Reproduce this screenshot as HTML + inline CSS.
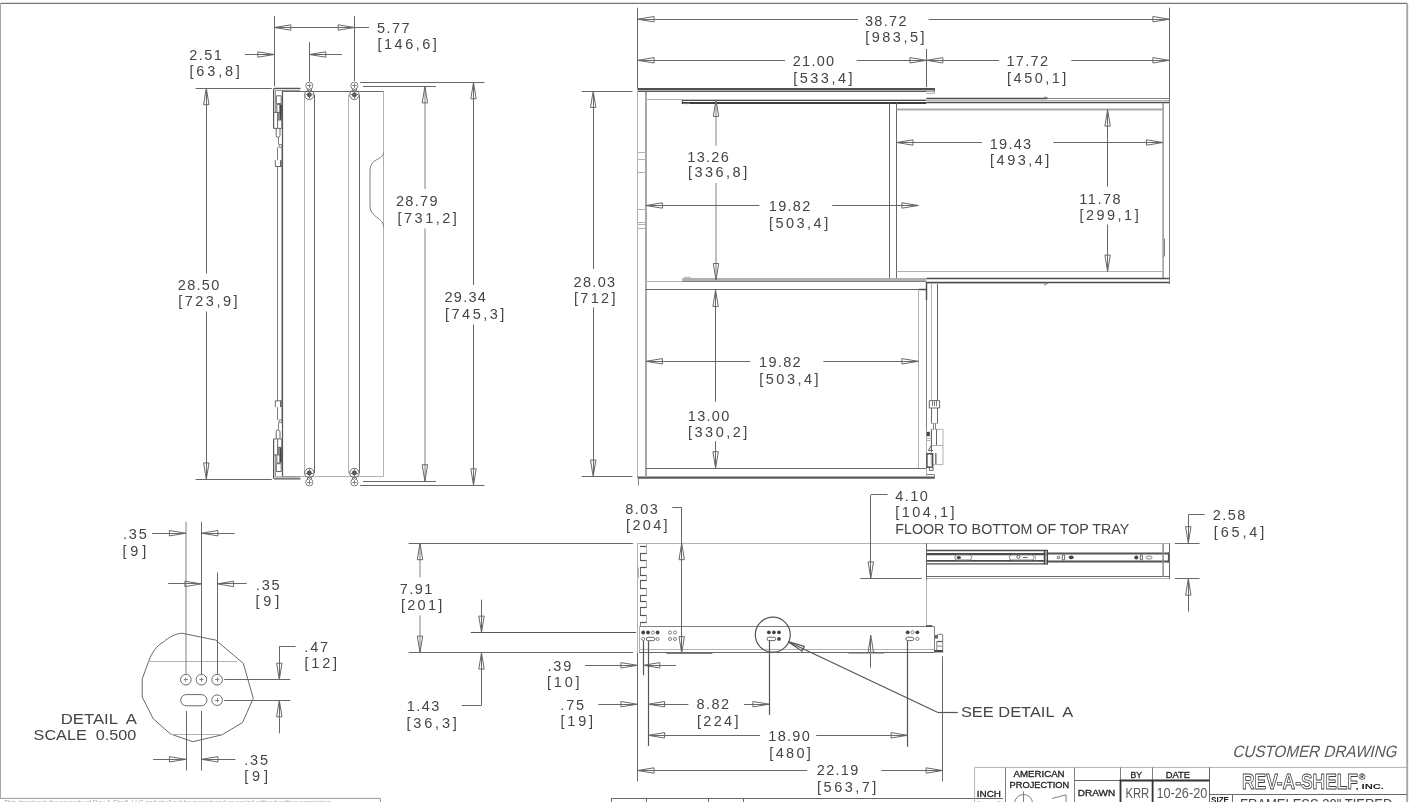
<!DOCTYPE html>
<html lang="en"><head><meta charset="utf-8"><title>Customer Drawing - Frameless 30" Tiered</title>
<style>
html,body{margin:0;padding:0;background:#fff;}
body{width:1410px;height:802px;overflow:hidden;font-family:"Liberation Sans",sans-serif;}
svg{display:block;position:absolute;left:0;top:0;filter:grayscale(1);}
path,circle{fill:none;vector-effect:non-scaling-stroke;}
.d{stroke:#686868;stroke-width:1;}
.d2{stroke:#555;stroke-width:1.2;}
.m{stroke:#808080;stroke-width:1;}
.l{stroke:#b2b2b2;stroke-width:1;}
.ll{stroke:#d4d4d4;stroke-width:1;}
.k{stroke:#4c4c4c;stroke-width:1.45;}
.kk{stroke:#4a4a4a;stroke-width:1.7;}
.g{stroke:#a8a8a8;stroke-width:1.8;}
.f{fill:#444;stroke:none;}
.fg{fill:#b0b0b0;stroke:none;}
text{font-family:"Liberation Sans",sans-serif;fill:#222;}
text.tx{font-size:14.5px;fill:#454545;white-space:pre;}
text.tsx{fill:#5a5a5a;white-space:pre;}
</style></head><body>
<svg width="1410" height="802" viewBox="0 0 1410 802" role="img" aria-label="Customer drawing">
<path d="M0.5,3.4H1407.2" style="stroke:#757575;stroke-width:1.4"/>
<path d="M0.5,3.4V798.4" style="stroke:#a8a8a8;stroke-width:1.1"/>
<path d="M1407.2,3.4V802" style="stroke:#a6a6a6;stroke-width:1.9"/>
<path d="M0.5,798.4H380.5V802" style="stroke:#999;stroke-width:1"/>
<text x="4" y="805.4" style="font-size:6.5px;fill:#aaa">This drawing is the property of Rev-A-Shelf, LLC and shall not be reproduced or copied without written permission.</text>
<path class="d" d="M282.4,91.5L384,91.5"/>
<path class="d2" d="M282.5,90.6L282.5,476.1"/>
<path class="l" d="M383.5,91.2L383.5,476.1"/>
<path class="l" d="M282.4,476.5L383.7,476.5"/>
<path class="l" d="M304.5,95L304.5,473"/>
<path class="d" d="M314.5,95L314.5,473"/>
<path class="l" d="M348.5,95L348.5,473"/>
<path class="d" d="M359.5,95L359.5,473"/>
<path class="m" d="M383.7,152.5C383.7,160 370,158 370,170V206C370,218 383.7,217 383.7,227.5"/>
<path class="m" d="M277.5,166.6L277.5,400.8"/>
<path class="l" d="M281.5,145L281.5,422"/>
<path class="d2" d="M273.6,128.4V89.5Q273.6,88.4 274.7,88.4H300.5"/>
<path class="m" d="M275.3,112.4V90.3H300"/>
<path class="d" d="M276.3,95.8H281.2V103.6H276.3Z"/>
<path class="d" d="M276.8,104.4H281.8V112.4H276.8Z"/>
<path class="f" d="M279.4,105H281.8V120H279.4Z"/>
<path class="d" d="M273.6,112.4H277.6V128.4H273.6M277.6,120H281.8V128.4H277.6"/>
<path class="d" d="M276.2,128.4V135.4Q276.4,137.6 278,137.4Q279.9,137.2 280,135.4V128.4"/>
<path class="m" d="M278.5,113L278.5,120"/>
<path class="m" d="M278.5,137.4L278.5,144.6"/>
<path class="m" d="M279.1,144.6H281.7V147.4H279.1Z"/>
<path class="m" d="M277.5,147.4L277.5,160.2"/>
<path class="d" d="M275.3,160.2V166.5H281.8V160.2"/>
<path class="d" d="M280.5,160.2L280.5,166.5"/>
<g transform="translate(0,567.3) scale(1,-1)">
<path class="d2" d="M273.6,128.4V89.5Q273.6,88.4 274.7,88.4H300.5"/>
<path class="m" d="M275.3,112.4V90.3H300"/>
<path class="d" d="M276.3,95.8H281.2V103.6H276.3Z"/>
<path class="d" d="M276.8,104.4H281.8V112.4H276.8Z"/>
<path class="f" d="M279.4,105H281.8V120H279.4Z"/>
<path class="d" d="M273.6,112.4H277.6V128.4H273.6M277.6,120H281.8V128.4H277.6"/>
<path class="d" d="M276.2,128.4V135.4Q276.4,137.6 278,137.4Q279.9,137.2 280,135.4V128.4"/>
<path class="m" d="M278.5,113L278.5,120"/>
<path class="m" d="M278.5,137.4L278.5,144.6"/>
<path class="m" d="M279.1,144.6H281.7V147.4H279.1Z"/>
<path class="m" d="M277.5,147.4L277.5,160.2"/>
<path class="d" d="M275.3,160.2V166.5H281.8V160.2"/>
<path class="d" d="M280.5,160.2L280.5,166.5"/>
</g>
<circle class="m" cx="309.3" cy="85.7" r="3.6"/>
<circle class="d" cx="309.3" cy="94.8" r="4.7"/>
<path class="m" d="M307.5,88.7L307.5,90.6"/>
<path class="m" d="M311.5,88.7L311.5,90.6"/>
<circle class="f" cx="309.3" cy="94.8" r="2.4"/>
<path class="m" d="M307.1,85.5L311.5,85.5"/>
<path class="m" d="M309.5,83.5L309.5,87.9"/>
<path class="d" d="M305.7,94.5L312.9,94.5"/>
<path class="d" d="M309.5,91.2L309.5,98.4"/>
<circle class="m" cx="309.3" cy="482.4" r="3.6"/>
<circle class="d" cx="309.3" cy="473" r="4.7"/>
<path class="m" d="M307.5,479.4L307.5,477.2"/>
<path class="m" d="M311.5,479.4L311.5,477.2"/>
<circle class="f" cx="309.3" cy="473" r="2.4"/>
<path class="m" d="M307.1,482.5L311.5,482.5"/>
<path class="m" d="M309.5,480.2L309.5,484.6"/>
<path class="d" d="M305.7,473.5L312.9,473.5"/>
<path class="d" d="M309.5,469.4L309.5,476.6"/>
<circle class="m" cx="354.4" cy="85.7" r="3.6"/>
<circle class="d" cx="354.4" cy="94.8" r="4.7"/>
<path class="m" d="M352.5,88.7L352.5,90.6"/>
<path class="m" d="M356.5,88.7L356.5,90.6"/>
<circle class="f" cx="354.4" cy="94.8" r="2.4"/>
<path class="m" d="M352.2,85.5L356.6,85.5"/>
<path class="m" d="M354.5,83.5L354.5,87.9"/>
<path class="d" d="M350.8,94.5L358,94.5"/>
<path class="d" d="M354.5,91.2L354.5,98.4"/>
<circle class="m" cx="354.4" cy="482.4" r="3.6"/>
<circle class="d" cx="354.4" cy="473" r="4.7"/>
<path class="m" d="M352.5,479.4L352.5,477.2"/>
<path class="m" d="M356.5,479.4L356.5,477.2"/>
<circle class="f" cx="354.4" cy="473" r="2.4"/>
<path class="m" d="M352.2,482.5L356.6,482.5"/>
<path class="m" d="M354.5,480.2L354.5,484.6"/>
<path class="d" d="M350.8,473.5L358,473.5"/>
<path class="d" d="M354.5,469.4L354.5,476.6"/>
<path class="d" d="M274.5,15.9L274.5,86.5"/>
<path class="d" d="M354.5,15.9L354.5,81"/>
<path class="d" d="M274.3,27.5L369,27.5"/>
<path class="d" d="M274.3,27.5L290.8,24.8L290.8,30.2Z"/>
<path class="d" d="M354.6,27.5L338.1,24.8L338.1,30.2Z"/>
<text class="tx" x="377.1" y="32.6" textLength="32.6" lengthAdjust="spacing">5.77</text>
<text class="tx" x="377.5" y="49.3" textLength="59.3" lengthAdjust="spacing">[146,6]</text>
<path class="d" d="M244.9,54.5L274.3,54.5"/>
<path class="d" d="M274.3,54.5L257.8,51.8L257.8,57.2Z"/>
<path class="d" d="M309.5,42.2L309.5,81.5"/>
<path class="d" d="M309.3,54.5L341.8,54.5"/>
<path class="d" d="M309.3,54.5L325.8,51.8L325.8,57.2Z"/>
<text class="tx" x="189.2" y="60.1" textLength="32.6" lengthAdjust="spacing">2.51</text>
<text class="tx" x="189.5" y="76.2" textLength="50.4" lengthAdjust="spacing">[63,8]</text>
<path class="d" d="M195.6,88.5L271.8,88.5"/>
<path class="d" d="M195.6,479.5L271.8,479.5"/>
<path class="d" d="M206.5,88.2L206.5,273.5"/>
<path class="d" d="M206.5,311.5L206.5,479.4"/>
<path class="d" d="M206.3,88.2L203.6,104.7L209,104.7Z"/>
<path class="d" d="M206.3,479.4L203.6,462.9L209,462.9Z"/>
<text class="tx" x="177.8" y="289.7" textLength="41.5" lengthAdjust="spacing">28.50</text>
<text class="tx" x="178.2" y="306.3" textLength="59.3" lengthAdjust="spacing">[723,9]</text>
<path class="d" d="M363,86.5L436,86.5"/>
<path class="d" d="M363,481.5L436,481.5"/>
<path class="m" d="M425,86.4L425,189"/>
<path class="m" d="M425,228.5L425,481.2"/>
<path class="d" d="M424.9,86.4L422.2,102.9L427.6,102.9Z"/>
<path class="d" d="M424.9,481.2L422.2,464.7L427.6,464.7Z"/>
<text class="tx" x="396" y="206.4" textLength="41.5" lengthAdjust="spacing">28.79</text>
<text class="tx" x="397.5" y="223" textLength="59.3" lengthAdjust="spacing">[731,2]</text>
<path class="d" d="M359.9,82.5L484.5,82.5"/>
<path class="d" d="M359.9,485.5L484.5,485.5"/>
<path class="d" d="M473.5,82.3L473.5,285"/>
<path class="d" d="M473.5,324.5L473.5,485.3"/>
<path class="d" d="M473.5,82.3L470.8,98.8L476.2,98.8Z"/>
<path class="d" d="M473.5,485.3L470.8,468.8L476.2,468.8Z"/>
<text class="tx" x="444.4" y="302.4" textLength="41.5" lengthAdjust="spacing">29.34</text>
<text class="tx" x="445" y="319.1" textLength="59.3" lengthAdjust="spacing">[745,3]</text>
<path class="d" d="M637.5,7.7L637.5,88.6"/>
<path class="d" d="M926.5,49L926.5,87"/>
<path class="d" d="M1169.5,7.7L1169.5,98"/>
<path class="d" d="M637.6,19.5L857.9,19.5"/>
<path class="d" d="M928.6,19.5L1169.4,19.5"/>
<path class="d" d="M637.6,19.2L654.1,16.5L654.1,21.9Z"/>
<path class="d" d="M1169.4,19.2L1152.9,16.5L1152.9,21.9Z"/>
<text class="tx" x="865" y="25.7" textLength="41.5" lengthAdjust="spacing">38.72</text>
<text class="tx" x="865.2" y="41.8" textLength="59.3" lengthAdjust="spacing">[983,5]</text>
<path class="d" d="M637.6,60.5L785,60.5"/>
<path class="d" d="M856.6,60.5L926.4,60.5"/>
<path class="d" d="M637.6,60.3L654.1,57.6L654.1,63Z"/>
<path class="d" d="M926.4,60.3L909.9,57.6L909.9,63Z"/>
<text class="tx" x="792.7" y="66" textLength="41.5" lengthAdjust="spacing">21.00</text>
<text class="tx" x="793.2" y="82.6" textLength="59.3" lengthAdjust="spacing">[533,4]</text>
<path class="d" d="M926.4,60.5L998.9,60.5"/>
<path class="d" d="M1071.3,60.5L1169.4,60.5"/>
<path class="d" d="M926.4,60.3L942.9,57.6L942.9,63Z"/>
<path class="d" d="M1169.4,60.3L1152.9,57.6L1152.9,63Z"/>
<text class="tx" x="1006.5" y="66" textLength="41.5" lengthAdjust="spacing">17.72</text>
<text class="tx" x="1007.1" y="82.5" textLength="59.3" lengthAdjust="spacing">[450,1]</text>
<path d="M637.5,90.5H934.5" style="stroke:#b4b4b4;stroke-width:1"/>
<path d="M637.5,89H935" style="stroke:#505050;stroke-width:2"/>
<path d="M637.5,91.5H935M934.5,88V92" style="stroke:#585858;stroke-width:1"/>
<path class="l" d="M926.4,91.6H934.5V93.4H926.4"/>
<path class="l" d="M637.5,91L637.5,477"/>
<path d="M646,92V476" style="stroke:#a8a8a8;stroke-width:2"/>
<path class="l" d="M637.6,152.5L645.9,152.5"/>
<path class="l" d="M637.6,159.5L645.9,159.5"/>
<path class="l" d="M637.6,172.5L645.9,172.5"/>
<path class="l" d="M637.6,209.5L645.9,209.5"/>
<path class="l" d="M637.6,222.5L645.9,222.5"/>
<path class="l" d="M637.6,224.5L645.9,224.5"/>
<path class="l" d="M637.6,228.5L645.9,228.5"/>
<path class="l" d="M645.9,99.5L682,99.5"/>
<path d="M681.9,99.5H926.4" style="stroke:#c0c0c0;stroke-width:1"/>
<path d="M681.9,100.5H926.4M682.4,100V104" style="stroke:#4c4c4c;stroke-width:1"/>
<path d="M681.9,103H926.4" style="stroke:#3c3c3c;stroke-width:2"/>
<path class="m" d="M683,103.6H690"/>
<path class="k" d="M926.4,98.5L1047.5,98.5"/>
<path class="m" d="M1047.5,98.5L1169.4,98.5"/>
<path class="l" d="M926.4,100.5L1169.4,100.5"/>
<path class="k" d="M926.4,102.5L1169.4,102.5"/>
<path class="m" d="M1044,96.8L1048,98.1"/>
<path class="d" d="M889.5,103L889.5,279"/>
<path class="d" d="M896.5,103L896.5,279"/>
<path d="M1163.1,102.5V279" style="stroke:#909090;stroke-width:1.4"/>
<path class="m" d="M1169.5,98L1169.5,284"/>
<path class="m" d="M1164.5,238.6L1164.5,256.5"/>
<path class="g" d="M896.5,109.5L1163,109.5"/>
<path class="l" d="M896.5,271.5L1163,271.5"/>
<path class="k" d="M926.4,278.5L1169.4,278.5"/>
<path class="k" d="M926.4,282.5L1169.4,282.5"/>
<path class="l" d="M926.4,283.5L1047.5,283.5"/>
<path class="m" d="M1044,285L1048,283.2"/>
<path class="fg" d="M682.2,278.1H926.4V281.6H682.2Z"/>
<path class="m" d="M682.2,281.5L926.4,281.5"/>
<path class="l" d="M684,277.2H691"/>
<path class="l" d="M645.9,281.5L682,281.5"/>
<path class="d" d="M645.9,289.5L918.4,289.5"/>
<path class="k" d="M918.4,289.5L926.4,289.5"/>
<path class="l" d="M918.5,289.8L918.5,468.2"/>
<path class="k" d="M926.5,282L926.5,300"/>
<path class="m" d="M926.5,300L926.5,430"/>
<path class="l" d="M926.5,430L926.5,468"/>
<path class="l" d="M931.5,284L931.5,400"/>
<path class="d" d="M937.5,284L937.5,400"/>
<path class="d" d="M645.9,468.5L926.4,468.5"/>
<path d="M637.5,477.7H934.8" style="stroke:#585858;stroke-width:2.3"/>
<path class="m" d="M926.5,474.5L934.6,474.5"/>
<path class="m" d="M934.5,474.8L934.5,478.4"/>
<path class="l" d="M926.5,468.2L926.5,476"/>
<path class="m" d="M638.5,478.4L638.5,485.5"/>
<path class="d" d="M929.3,400.6H939.6V408H929.3Z"/>
<path class="m" d="M932.5,401L932.5,406"/>
<path class="m" d="M934.5,401L934.5,406"/>
<path class="m" d="M936.5,401L936.5,406"/>
<path class="d" d="M931.5,408L931.5,423.4"/>
<path class="d" d="M937.5,408L937.5,423.4"/>
<path class="l" d="M931.4,423.5L937.8,423.5"/>
<path class="m" d="M933.5,423.4L933.5,429.3"/>
<path class="m" d="M935.5,423.4L935.5,429.3"/>
<path class="l" d="M931.2,429.3H943V464.6H931.2Z"/>
<path class="d" d="M936.5,429.3L936.5,445.5"/>
<path class="l" d="M931.2,445.5L943,445.5"/>
<path class="d" d="M931.5,429.3L931.5,452"/>
<path class="f" d="M926.6,431.8H929.8V436.2H926.6Z"/>
<path class="l" d="M927,438.5L930.4,438.5"/>
<path class="l" d="M927,440.5L930.4,440.5"/>
<path class="d" d="M931.2,445.5L928.4,450.5H933"/>
<path class="k" d="M926.9,453.8H932.6V467.3H926.9Z"/>
<path class="m" d="M935.5,453L935.5,464"/>
<path class="l" d="M936.5,453L936.5,464"/>
<path class="d" d="M929.4,467.3H933V470.4H929.4Z"/>
<path class="d" d="M581.7,91.5L632.4,91.5"/>
<path class="d" d="M581.7,476.5L632.4,476.5"/>
<path class="d" d="M593.5,91L593.5,269"/>
<path class="d" d="M593.5,307.5L593.5,476.5"/>
<path class="d" d="M593.2,91L590.5,107.5L595.9,107.5Z"/>
<path class="d" d="M593.2,476.5L590.5,460L595.9,460Z"/>
<text class="tx" x="573.6" y="286.7" textLength="41.5" lengthAdjust="spacing">28.03</text>
<text class="tx" x="574" y="303.3" textLength="41.5" lengthAdjust="spacing">[712]</text>
<path class="m" d="M716,99.9L716,145.7"/>
<path class="m" d="M716,183L716,280"/>
<path class="d" d="M716,99.9L713.3,116.4L718.7,116.4Z"/>
<path class="d" d="M716,280L713.3,263.5L718.7,263.5Z"/>
<text class="tx" x="687.3" y="161.5" textLength="41.5" lengthAdjust="spacing">13.26</text>
<text class="tx" x="687.9" y="177.1" textLength="59.3" lengthAdjust="spacing">[336,8]</text>
<path class="d" d="M645.9,205.5L759.4,205.5"/>
<path class="d" d="M832.3,205.5L918.4,205.5"/>
<path class="d" d="M645.9,205.5L662.4,202.8L662.4,208.2Z"/>
<path class="d" d="M918.4,205.5L901.9,202.8L901.9,208.2Z"/>
<text class="tx" x="768.8" y="211.1" textLength="41.5" lengthAdjust="spacing">19.82</text>
<text class="tx" x="768.9" y="227.6" textLength="59.3" lengthAdjust="spacing">[503,4]</text>
<path class="d" d="M715.5,290L715.5,401.6"/>
<path class="d" d="M715.5,441.2L715.5,468.2"/>
<path class="d" d="M715.6,290L712.9,306.5L718.3,306.5Z"/>
<path class="d" d="M715.6,468.2L712.9,451.7L718.3,451.7Z"/>
<text class="tx" x="687.8" y="420.6" textLength="41.5" lengthAdjust="spacing">13.00</text>
<text class="tx" x="688" y="436.8" textLength="59.3" lengthAdjust="spacing">[330,2]</text>
<path class="d" d="M645.9,361.5L750.5,361.5"/>
<path class="d" d="M823.4,361.5L918.4,361.5"/>
<path class="d" d="M645.9,361.3L662.4,358.6L662.4,364Z"/>
<path class="d" d="M918.4,361.3L901.9,358.6L901.9,364Z"/>
<text class="tx" x="759.1" y="367.1" textLength="41.5" lengthAdjust="spacing">19.82</text>
<text class="tx" x="759.3" y="383.7" textLength="59.3" lengthAdjust="spacing">[503,4]</text>
<path class="d" d="M896.5,142.5L981.8,142.5"/>
<path class="d" d="M1053.4,142.5L1163,142.5"/>
<path class="d" d="M896.5,142.5L913,139.8L913,145.2Z"/>
<path class="d" d="M1163,142.5L1146.5,139.8L1146.5,145.2Z"/>
<text class="tx" x="989.7" y="148.6" textLength="41.5" lengthAdjust="spacing">19.43</text>
<text class="tx" x="990.1" y="164.8" textLength="59.3" lengthAdjust="spacing">[493,4]</text>
<path class="d" d="M1107.5,109.6L1107.5,186.7"/>
<path class="d" d="M1107.5,224.5L1107.5,271.6"/>
<path class="d" d="M1107.6,109.6L1104.9,126.1L1110.3,126.1Z"/>
<path class="d" d="M1107.6,271.6L1104.9,255.1L1110.3,255.1Z"/>
<text class="tx" x="1079.2" y="203.6" textLength="41.5" lengthAdjust="spacing">11.78</text>
<text class="tx" x="1079.4" y="220" textLength="59.3" lengthAdjust="spacing">[299,1]</text>
<path class="l" d="M637.5,543.5L1169.4,543.5"/>
<path class="l" d="M637.5,543.2L637.5,653"/>
<path class="d" d="M637.5,653L637.5,781.3"/>
<path class="l" d="M926.5,543.2L926.5,625.8"/>
<path class="d2" d="M640,546.5L646.6,546.5"/>
<path class="l" d="M646.5,546.9L646.5,553.4"/>
<path class="d2" d="M640,553.5L646.6,553.5"/>
<path class="d" d="M640.5,553.4L640.5,560.8"/>
<path class="d2" d="M640,560.5L646.6,560.5"/>
<path class="l" d="M646.5,560.8L646.5,567.4"/>
<path class="d2" d="M640,567.5L646.6,567.5"/>
<path class="d" d="M640.5,567.4L640.5,575.2"/>
<path class="d2" d="M640,575.5L646.6,575.5"/>
<path class="l" d="M646.5,575.2L646.5,580.9"/>
<path class="d2" d="M640,580.5L646.6,580.5"/>
<path class="d" d="M640.5,580.9L640.5,588.6"/>
<path class="d2" d="M640,588.5L646.6,588.5"/>
<path class="l" d="M646.5,588.6L646.5,595.2"/>
<path class="d2" d="M640,595.5L646.6,595.5"/>
<path class="d" d="M640.5,595.2L640.5,601.2"/>
<path class="d2" d="M640,601.5L646.6,601.5"/>
<path class="l" d="M646.5,601.2L646.5,607.8"/>
<path class="d2" d="M640,607.5L646.6,607.5"/>
<path class="d" d="M640.5,607.8L640.5,615.8"/>
<path class="d2" d="M640,615.5L646.6,615.5"/>
<path class="l" d="M646.5,615.8L646.5,622.5"/>
<path class="d2" d="M640,622.5L646.6,622.5"/>
<path class="l" d="M646.5,543.5L646.5,546.9"/>
<path class="m" d="M640.5,622.5L640.5,626"/>
<path class="l" d="M638.5,567.5L638.5,578"/>
<path class="m" d="M934.3,626.5H639.5"/>
<path class="l" d="M639.5,626.5V652.4"/>
<path class="l" d="M639.2,649.5L934.3,649.5"/>
<path class="d" d="M639.2,652.5L934.3,652.5"/>
<path class="f" d="M926.2,625.2H932.2V626.8H926.2Z"/>
<circle cx="643.2" cy="632.5" r="1.9" class="f"/>
<circle cx="648" cy="632.5" r="1.9" class="f"/>
<circle class="m" cx="652.9" cy="632.5" r="1.55"/>
<circle cx="657.6" cy="632.5" r="1.9" class="f"/>
<circle class="m" cx="670" cy="632.5" r="1.55"/>
<circle class="m" cx="675" cy="632.5" r="1.55"/>
<circle class="m" cx="643.2" cy="639" r="1.55"/>
<path class="d" d="M648.1,637.3H653.0999999999999A1.7,1.7 0 0 1 653.0999999999999,640.7H648.1A1.7,1.7 0 0 1 648.1,637.3Z"/>
<circle class="m" cx="657.6" cy="639" r="1.55"/>
<circle class="m" cx="670" cy="639" r="1.55"/>
<circle class="m" cx="675" cy="639" r="1.55"/>
<circle class="d2" cx="772.8" cy="634.7" r="17.5"/>
<circle cx="768.9" cy="632.3" r="1.9" class="f"/>
<circle cx="773.9" cy="632.3" r="1.9" class="f"/>
<circle cx="779" cy="632.3" r="1.9" class="f"/>
<path class="d" d="M768.7,637.1999999999999H774.0999999999999A1.7,1.7 0 0 1 774.0999999999999,640.6H768.7A1.7,1.7 0 0 1 768.7,637.1999999999999Z"/>
<circle cx="779" cy="638.9" r="1.9" class="f"/>
<circle cx="907.7" cy="632.3" r="1.9" class="f"/>
<circle class="m" cx="912.5" cy="632.3" r="1.55"/>
<circle cx="917.4" cy="632.3" r="1.9" class="f"/>
<path class="d" d="M907.5,637.1999999999999H912.0999999999999A1.7,1.7 0 0 1 912.0999999999999,640.6H907.5A1.7,1.7 0 0 1 907.5,637.1999999999999Z"/>
<circle class="m" cx="917.4" cy="638.9" r="1.6"/>
<path class="m" d="M937.4,634.3H942.7V652.4"/>
<path class="m" d="M934.5,626.5L934.5,652.4"/>
<path class="f" d="M934.8,635H938V638.6H934.8Z" style="fill:#666"/>
<path class="d2" d="M936.8,641.5L942.7,641.5"/>
<path class="m" d="M936.8,641.2V650"/>
<path d="M936.5,646.2H942.7" style="stroke:#aaa;stroke-width:1.4"/>
<path d="M934.4,651.2H942.9" style="stroke:#484848;stroke-width:2.4"/>
<path class="d" d="M926.5,543.2L926.5,580"/>
<path d="M926.9,550.5H1047.8" style="stroke:#4c4c4c;stroke-width:1.4"/>
<path d="M926.9,563.9H1047.8" style="stroke:#4c4c4c;stroke-width:1.4"/>
<path d="M926.9,554.1H1047.8" style="stroke:#4a4a4a;stroke-width:2.4"/>
<path d="M926.9,560.8H1047.8" style="stroke:#4a4a4a;stroke-width:1.8"/>
<path d="M1047.8,553.4H1168.8" style="stroke:#555;stroke-width:2"/>
<path d="M1047.8,561.5H1168.8" style="stroke:#505050;stroke-width:2.2"/>
<path d="M1044.4,550V564.5M1047.4,550V564.5" style="stroke:#444;stroke-width:1.3"/>
<path d="M1045.9,551.5V563" style="stroke:#999;stroke-width:1.6"/>
<path class="d2" d="M1168.5,552.4L1168.5,562.6"/>
<path d="M956.8,555H969.6A2,2.5 0 0 1 969.6,560H956.8A2,2.5 0 0 1 956.8,555Z" style="fill:#fff;stroke:#777;stroke-width:.9"/>
<ellipse cx="958.8" cy="557.5" rx="2.2" ry="1.6" class="f"/>
<path d="M1011.4,555H1032A2,2.5 0 0 1 1032,560H1011.4A2,2.5 0 0 1 1011.4,555Z" style="fill:#fff;stroke:#777;stroke-width:.9"/>
<circle class="d" cx="1018.4" cy="556.8" r="1.6"/>
<path class="d" d="M1023,557.5L1027.5,557.5"/>
<path class="l" d="M1035.5,555L1035.5,560.5"/>
<path class="m" d="M1057.4,556.3H1059.7V558.5H1057.4Z"/>
<path class="d" d="M1062.3,554.9H1064.7V559.9H1062.3Z"/>
<ellipse cx="1071.2" cy="557.4" rx="2.5" ry="1.8" class="f"/>
<circle cx="1136.3" cy="557.4" r="2" class="f"/>
<path class="d" d="M1140.3,554.9H1142.4V559.9H1140.3Z"/>
<path class="m" d="M1147.4,556.2H1150.6A1.3,1.3 0 0 1 1150.6,558.9H1147.4A1.3,1.3 0 0 1 1147.4,556.2Z"/>
<path class="d" d="M926.9,576.5L1169.4,576.5"/>
<path class="l" d="M926.9,578.5L1169.4,578.5"/>
<path d="M1163.1,543.5V577" style="stroke:#8c8c8c;stroke-width:1.5"/>
<path class="d" d="M1169.5,543.2L1169.5,579"/>
<path class="d" d="M408.6,543.5L633,543.5"/>
<path class="d" d="M408.6,652.5L633,652.5"/>
<path class="m" d="M420,543.2L420,577.2"/>
<path class="m" d="M420,615.5L420,652.6"/>
<path class="d" d="M420,543.2L417.3,559.7L422.7,559.7Z"/>
<path class="d" d="M420,652.6L417.3,636.1L422.7,636.1Z"/>
<text class="tx" x="399.8" y="593.7" textLength="32.6" lengthAdjust="spacing">7.91</text>
<text class="tx" x="400.9" y="609.8" textLength="41.5" lengthAdjust="spacing">[201]</text>
<path class="d2" d="M470.8,632.5L636,632.5"/>
<path class="d" d="M481.5,599.7L481.5,632.6"/>
<path class="d" d="M481.5,632.6L478.8,616.1L484.2,616.1Z"/>
<path class="d" d="M481.5,652.6L481.5,705.2"/>
<path class="d" d="M481.5,652.6L478.8,669.1L484.2,669.1Z"/>
<path class="d" d="M461.7,705.5L481.5,705.5"/>
<text class="tx" x="406.7" y="711.1" textLength="32.6" lengthAdjust="spacing">1.43</text>
<text class="tx" x="406.4" y="727.7" textLength="50.4" lengthAdjust="spacing">[36,3]</text>
<path class="d" d="M672.3,507.5L681.7,507.5"/>
<path class="d" d="M681.5,507.3L681.5,653.1"/>
<path class="d" d="M681.7,543.2L679,559.7L684.4,559.7Z"/>
<path class="d" d="M681.7,653.1L679,636.6L684.4,636.6Z"/>
<path class="m" d="M666.4,653.5L712.4,653.5"/>
<text class="tx" x="625.2" y="513.7" textLength="32.6" lengthAdjust="spacing">8.03</text>
<text class="tx" x="626.1" y="530" textLength="41.5" lengthAdjust="spacing">[204]</text>
<path class="d" d="M870.8,494.5L887.6,494.5"/>
<path class="d" d="M870.5,494.9L870.5,578.4"/>
<path class="d" d="M870.8,578.4L868.1,561.9L873.5,561.9Z"/>
<path class="d" d="M860.3,578.5L921.7,578.5"/>
<path class="d" d="M870.8,635.3L868.1,652.3L873.5,652.3Z"/>
<path class="d" d="M870.5,635.3L870.5,667.7"/>
<path class="l" d="M848.4,653.5L884.3,653.5"/>
<text class="tx" x="895.3" y="500.9" textLength="32.6" lengthAdjust="spacing">4.10</text>
<text class="tx" x="895.2" y="517.4" textLength="59.3" lengthAdjust="spacing">[104,1]</text>
<text class="tx" x="895.3" y="533.8" textLength="234" lengthAdjust="spacingAndGlyphs">FLOOR TO BOTTOM OF TOP TRAY</text>
<path class="d" d="M1174.8,543.5L1199.6,543.5"/>
<path class="d" d="M1174.8,578.5L1199.6,578.5"/>
<path class="d" d="M1188.3,514.5L1204.7,514.5"/>
<path class="d" d="M1188.5,514.5L1188.5,543.2"/>
<path class="d" d="M1188.3,543.2L1185.6,526.7L1191,526.7Z"/>
<path class="d" d="M1188.5,578.7L1188.5,611.7"/>
<path class="d" d="M1188.3,578.7L1185.6,595.2L1191,595.2Z"/>
<text class="tx" x="1212.7" y="520.4" textLength="32.6" lengthAdjust="spacing">2.58</text>
<text class="tx" x="1213.8" y="536.7" textLength="50.4" lengthAdjust="spacing">[65,4]</text>
<path class="d" d="M585,665.5L637.4,665.5"/>
<path class="d" d="M637.4,665.3L620.9,662.6L620.9,668Z"/>
<path class="d2" d="M643.5,641L643.5,675.3"/>
<path class="d" d="M643.3,665.5L676,665.5"/>
<path class="d" d="M643.3,665.3L659.8,662.6L659.8,668Z"/>
<text class="tx" x="547.5" y="671.1" textLength="23.8" lengthAdjust="spacing">.39</text>
<text class="tx" x="547" y="687.1" textLength="32.6" lengthAdjust="spacing">[10]</text>
<path class="d" d="M598.3,704.5L637.4,704.5"/>
<path class="d" d="M637.4,704.2L620.9,701.5L620.9,706.9Z"/>
<path class="d2" d="M648.5,641L648.5,746"/>
<path class="d" d="M648.1,704.5L688.4,704.5"/>
<path class="d" d="M648.1,704.2L664.6,701.5L664.6,706.9Z"/>
<text class="tx" x="560.3" y="709.9" textLength="23.8" lengthAdjust="spacing">.75</text>
<text class="tx" x="560.5" y="726.4" textLength="32.6" lengthAdjust="spacing">[19]</text>
<path class="d" d="M743.9,704.5L769.4,704.5"/>
<path class="d" d="M769.4,704.2L752.9,701.5L752.9,706.9Z"/>
<path class="d2" d="M769.5,640.8L769.5,714.9"/>
<text class="tx" x="696.6" y="709.3" textLength="32.6" lengthAdjust="spacing">8.82</text>
<text class="tx" x="697" y="725.9" textLength="41.5" lengthAdjust="spacing">[224]</text>
<path class="d" d="M648.1,735.5L760,735.5"/>
<path class="d" d="M816.2,735.5L907.6,735.5"/>
<path class="d" d="M648.1,735.3L664.6,732.6L664.6,738Z"/>
<path class="d" d="M907.6,735.3L891.1,732.6L891.1,738Z"/>
<path class="d2" d="M907.5,640.8L907.5,746.8"/>
<text class="tx" x="768.3" y="740.7" textLength="41.5" lengthAdjust="spacing">18.90</text>
<text class="tx" x="769.3" y="757.7" textLength="41.5" lengthAdjust="spacing">[480]</text>
<path class="d" d="M637.5,770.5L807.2,770.5"/>
<path class="d" d="M881.3,770.5L942.6,770.5"/>
<path class="d" d="M637.5,770.5L654,767.8L654,773.2Z"/>
<path class="d" d="M942.6,770.5L926.1,767.8L926.1,773.2Z"/>
<path class="d" d="M942.5,656.2L942.5,781.3"/>
<text class="tx" x="816.8" y="775.2" textLength="41.5" lengthAdjust="spacing">22.19</text>
<text class="tx" x="817.1" y="792.3" textLength="59.3" lengthAdjust="spacing">[563,7]</text>
<path class="d2" d="M788.2,641.7L937.4,712.3"/>
<path class="d2" d="M937.4,712.5L957.8,712.5"/>
<path class="d2" d="M788.2,641.7L802.0,651.2L804.3,646.3Z"/>
<text class="tx" x="960.9" y="717.2" textLength="112.2" lengthAdjust="spacingAndGlyphs">SEE DETAIL  A</text>
<path class="d" d="M148.6,661.3C152,652 157,645.5 163.4,642C169,637 175,634 181.8,633.2L215.7,640.1L243.3,663.3L253.3,698.3L242.5,722.5L222.1,734.8L192.8,741.7L170.5,734L153.2,718.7L142.2,697V679.1Z"/>
<path class="l" d="M148.6,661.5L236.9,661.5"/>
<path class="l" d="M170.5,734.5L222.1,734.5"/>
<circle class="d" cx="185.9" cy="679.7" r="5.3"/>
<path class="m" d="M183.9,679.5L187.9,679.5"/>
<path class="m" d="M185.5,677.7L185.5,681.7"/>
<circle class="d" cx="201.4" cy="679.7" r="5.3"/>
<path class="m" d="M199.4,679.5L203.4,679.5"/>
<path class="m" d="M201.5,677.7L201.5,681.7"/>
<circle class="d" cx="217.1" cy="679.7" r="5.3"/>
<path class="m" d="M215.1,679.5L219.1,679.5"/>
<path class="m" d="M217.5,677.7L217.5,681.7"/>
<circle class="d" cx="217.1" cy="700.2" r="5.3"/>
<path class="m" d="M215.1,700.5L219.1,700.5"/>
<path class="m" d="M217.5,698.2L217.5,702.2"/>
<path class="d" d="M186.3,694.6H201.3A5.6,5.6 0 0 1 201.3,705.8H186.3A5.6,5.6 0 0 1 186.3,694.6Z"/>
<path class="m" d="M186,521.7L186,674.4"/>
<path class="d" d="M201.5,521.7L201.5,674.4"/>
<path class="d" d="M217.5,572.4L217.5,674.4"/>
<path class="d" d="M152.1,533.5L185.9,533.5"/>
<path class="d" d="M185.9,533.2L169.4,530.5L169.4,535.9Z"/>
<path class="d" d="M201.4,533.5L234.7,533.5"/>
<path class="d" d="M201.4,533.2L217.9,530.5L217.9,535.9Z"/>
<text class="tx" x="123" y="538.9" textLength="23.8" lengthAdjust="spacing">.35</text>
<text class="tx" x="122.5" y="555.5" textLength="23.8" lengthAdjust="spacing">[9]</text>
<path class="d" d="M168.2,583.5L201.4,583.5"/>
<path class="d" d="M201.4,583.9L184.9,581.2L184.9,586.6Z"/>
<path class="d" d="M217.1,583.5L246.7,583.5"/>
<path class="d" d="M217.1,583.9L233.6,581.2L233.6,586.6Z"/>
<text class="tx" x="255.8" y="589.7" textLength="23.8" lengthAdjust="spacing">.35</text>
<text class="tx" x="255.4" y="606.4" textLength="23.8" lengthAdjust="spacing">[9]</text>
<path class="d" d="M224.2,679.5L290.3,679.5"/>
<path class="d" d="M224.2,700.5L290.3,700.5"/>
<path class="d" d="M279.3,646.5L295.6,646.5"/>
<path class="d" d="M279.5,646.5L279.5,679.7"/>
<path class="d" d="M279.3,679.7L276.6,663.2L282,663.2Z"/>
<path class="d" d="M279.5,700.3L279.5,733.3"/>
<path class="d" d="M279.3,700.3L276.6,716.8L282,716.8Z"/>
<text class="tx" x="304.3" y="651.7" textLength="23.8" lengthAdjust="spacing">.47</text>
<text class="tx" x="304.5" y="668" textLength="32.6" lengthAdjust="spacing">[12]</text>
<path class="d" d="M186.5,711L186.5,770.5"/>
<path class="d" d="M201.5,711L201.5,770.5"/>
<path class="d" d="M153.2,759.5L185.9,759.5"/>
<path class="d" d="M185.9,759.3L169.4,756.6L169.4,762Z"/>
<path class="d" d="M201.4,759.5L235.4,759.5"/>
<path class="d" d="M201.4,759.3L217.9,756.6L217.9,762Z"/>
<text class="tx" x="244.2" y="764.8" textLength="23.8" lengthAdjust="spacing">.35</text>
<text class="tx" x="244.2" y="781.3" textLength="23.8" lengthAdjust="spacing">[9]</text>
<text class="tx" x="60.7" y="723.6" textLength="76.2" lengthAdjust="spacingAndGlyphs">DETAIL  A</text>
<text class="tx" x="33.6" y="739.8" textLength="102.8" lengthAdjust="spacingAndGlyphs">SCALE  0.500</text>
<text class="tsx" transform="translate(0,744.00) skewX(-14)" x="1235.3" y="12.6" font-size="16.5" textLength="164.3" lengthAdjust="spacingAndGlyphs">CUSTOMER DRAWING</text>
<path class="d" d="M611,798.5L1003,798.5"/>
<path class="d" d="M611.5,798.3L611.5,802"/>
<path class="d" d="M646.5,798.3L646.5,802"/>
<path class="d" d="M708.5,798.3L708.5,802"/>
<path class="d" d="M743.5,798.3L743.5,802"/>
<path class="l" d="M974.6,802V767.4H1407"/>
<path class="m" d="M1005.5,767.4L1005.5,802"/>
<path class="m" d="M1074.5,767.4L1074.5,802"/>
<path class="m" d="M1120.5,767.4L1120.5,780.4"/>
<path class="m" d="M1152.5,767.4L1152.5,780.4"/>
<path class="d" d="M1209.5,767.4L1209.5,802"/>
<path class="d" d="M1074.7,780.5L1120.5,780.5"/>
<path d="M1119.6,780.5H1209.6M1120.5,780.5V802M1152.6,780.5V802" style="stroke:#333;stroke-width:1.8"/>
<path class="d" d="M1209.6,794.5L1407,794.5"/>
<path class="d" d="M1232.5,794.5L1232.5,802"/>
<text x="1013.6" y="777" font-size="9.0" font-weight="normal" text-anchor="start" textLength="51" lengthAdjust="spacingAndGlyphs" style="stroke:#222;stroke-width:.3">AMERICAN</text>
<text x="1009.6" y="787.8" font-size="9.0" font-weight="normal" text-anchor="start" textLength="59.6" lengthAdjust="spacingAndGlyphs" style="stroke:#222;stroke-width:.3">PROJECTION</text>
<text x="976.8" y="797" font-size="9.2" font-weight="normal" text-anchor="start" textLength="24.2" lengthAdjust="spacingAndGlyphs" style="stroke:#222;stroke-width:.3">INCH</text>
<text x="977" y="808.8" font-size="9.2" font-weight="normal" text-anchor="start" textLength="24" lengthAdjust="spacingAndGlyphs" style="stroke:#222;stroke-width:.3">[MM]</text>
<text x="1077.8" y="796" font-size="9.2" font-weight="normal" text-anchor="start" textLength="37.4" lengthAdjust="spacingAndGlyphs" style="stroke:#222;stroke-width:.3">DRAWN</text>
<text x="1130.4" y="778" font-size="9.6" font-weight="normal" text-anchor="start" textLength="11.6" lengthAdjust="spacingAndGlyphs" style="stroke:#222;stroke-width:.3">BY</text>
<text x="1165.8" y="778" font-size="9.6" font-weight="normal" text-anchor="start" textLength="24.2" lengthAdjust="spacingAndGlyphs" style="stroke:#222;stroke-width:.3">DATE</text>
<text x="1211" y="802.6" font-size="9.2" font-weight="bold" text-anchor="start" textLength="18" lengthAdjust="spacingAndGlyphs" >SIZE</text>
<text class="tsx" x="1125.4" y="797.7" font-size="15" textLength="23.9" lengthAdjust="spacingAndGlyphs">KRR</text>
<text class="tsx" x="1156.4" y="797.7" font-size="15" textLength="50.9" lengthAdjust="spacingAndGlyphs">10-26-20</text>
<text class="tx" x="1240" y="808.5" textLength="152.4" lengthAdjust="spacingAndGlyphs">FRAMELESS 30" TIERED</text>
<circle class="m" cx="1023.6" cy="803.5" r="9"/>
<path class="m" d="M1023.5,791.5L1023.5,802"/>
<path class="m" d="M1052,798.5L1066,794.8V802"/>
<text x="1242" y="789" font-size="21.8" font-weight="bold" textLength="116" lengthAdjust="spacingAndGlyphs" style="fill:#fff;stroke:#3c3c3c;stroke-width:.85;stroke-linejoin:round">REV-A-SHELF</text>
<text x="1358.6" y="780" font-size="9.5" font-weight="bold" text-anchor="start" >®</text>
<text x="1355.4" y="789.2" font-size="7.4" font-weight="bold" text-anchor="start" textLength="28.5" lengthAdjust="spacingAndGlyphs" >, INC.</text>
</svg>
</body></html>
